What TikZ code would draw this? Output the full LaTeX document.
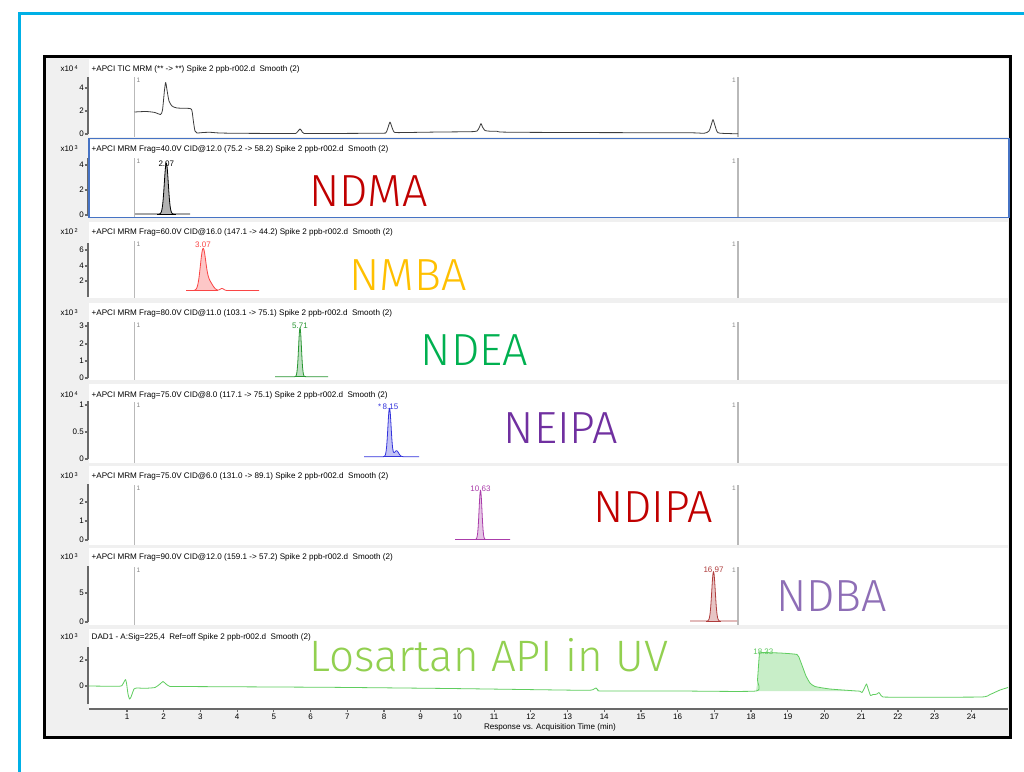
\documentclass[tikz,border=0pt]{standalone}
\usepackage{fontspec}
\setmainfont{Liberation Sans}
\newfontfamily\compoundfont{Fira Sans Light}
\usetikzlibrary{positioning}

\definecolor{framecyan}{RGB}{0,176,230}
\definecolor{bggray}{RGB}{240,240,240}
\definecolor{axisgray}{RGB}{105,105,105}
\definecolor{markgray}{RGB}{185,185,185}
\definecolor{selblue}{RGB}{70,115,196}
\definecolor{ticgray}{RGB}{60,60,60}
\definecolor{nmbared}{RGB}{250,70,70}
\definecolor{ndeagreen}{RGB}{40,150,50}
\definecolor{neipablue}{RGB}{50,50,220}
\definecolor{ndipapurple}{RGB}{170,60,170}
\definecolor{ndbared}{RGB}{175,60,60}
\definecolor{dadgreen}{RGB}{95,205,95}
\definecolor{dadfill}{RGB}{200,238,200}
\definecolor{dadlabel}{RGB}{95,200,95}
\definecolor{ndmatext}{RGB}{192,0,0}
\definecolor{nmbatext}{RGB}{255,192,0}
\definecolor{ndeatext}{RGB}{0,176,80}
\definecolor{neipatext}{RGB}{112,48,160}
\definecolor{ndbatext}{RGB}{142,110,182}
\definecolor{losartantext}{RGB}{146,208,80}

\begin{document}
\begin{tikzpicture}[x=1pt, y=-1pt,
  header/.style={anchor=west, inner sep=0pt, font=\fontsize{8.1}{9}\selectfont},
  ticklabel/.style={anchor=east, inner sep=0pt, font=\fontsize{8}{9}\selectfont},
  marklabel/.style={inner sep=0pt, text=markgray!70!black, font=\fontsize{6.5}{7}\selectfont},
  peaklabel/.style={anchor=south, inner sep=0pt, font=\fontsize{8}{9}\selectfont},
  compound/.style={anchor=base, inner sep=0pt, font=\compoundfont\fontsize{45}{45}\selectfont},
  axis/.style={axisgray, line width=1.2pt},
  marker/.style={markgray, line width=1.4pt},
  trace/.style={line width=0.8pt, line join=round}
]

  % Frames and panels
  \useasboundingbox (0,0) rectangle (1024,771);
  \draw[framecyan, line width=3.5pt] (19.5,13.5) rectangle (1040,790);
  \draw[line width=2.5pt, fill=bggray] (44.5,56.5) rectangle (1010.5,737.5);
  \foreach \ptop/\pbot in {59/137, 140/218, 222/298, 303/380, 384/463, 466/545, 548/625, 629/708}
    \fill[white] (89,\ptop) rectangle (1008,\pbot);

  % Headers, exponents and y axes
  \foreach \n/\hy/\at/\ab/\ex/\txt in {
    tic/69/77/134/4/{+APCI TIC MRM (** -> **) Spike 2 ppb-r002.d\ \ Smooth (2)},
    ndma/149/158/215/3/{+APCI MRM Frag=40.0V CID@12.0 (75.2 -> 58.2) Spike 2 ppb-r002.d\ \ Smooth (2)},
    nmba/232/243/297/2/{+APCI MRM Frag=60.0V CID@16.0 (147.1 -> 44.2) Spike 2 ppb-r002.d\ \ Smooth (2)},
    ndea/313/322/378/3/{+APCI MRM Frag=80.0V CID@11.0 (103.1 -> 75.1) Spike 2 ppb-r002.d\ \ Smooth (2)},
    neipa/395/401/459/4/{+APCI MRM Frag=75.0V CID@8.0 (117.1 -> 75.1) Spike 2 ppb-r002.d\ \ Smooth (2)},
    ndipa/476/484/540/3/{+APCI MRM Frag=75.0V CID@6.0 (131.0 -> 89.1) Spike 2 ppb-r002.d\ \ Smooth (2)},
    ndba/557/566/622/3/{+APCI MRM Frag=90.0V CID@12.0 (159.1 -> 57.2) Spike 2 ppb-r002.d\ \ Smooth (2)},
    dad/637/647/704/3/{DAD1 - A:Sig=225,4\ \ Ref=off Spike 2 ppb-r002.d\ \ Smooth (2)}}{
    \node[header] (head-\n) at (91.5,\hy) {\txt};
    \node[ticklabel] (exp-\n) at (78,\hy) {x10\,\raisebox{2.2pt}{\fontsize{5.5}{6}\selectfont\ex}};
    \draw[axis] (88,\at) -- (88,\ab);
  }
  \draw[selblue, line width=1.4pt] (89,138.7) rectangle (1009,217.5);

  % Y ticks
  \foreach \y/\v in {88/4, 111/2, 134/0, 165/4, 190/2, 215/0, 250/6, 266/4, 281/2,
      326/3, 344/2, 361/1, 378/0, 405/1, 432/0.5, 459/0, 502/2, 521/1, 540/0,
      593/5, 622/0, 660/2, 686/0}{
    \draw[axis] (84.5,\y) -- (88,\y);
    \node[ticklabel] (ytick-\y) at (84,\y) {\v};
  }

  % Marker lines
  \foreach \n/\at/\ab in {tic/77/137, ndma/158/217, nmba/241/298, ndea/322/380,
      neipa/402/463, ndipa/485/545, ndba/567/625}{
    \draw[marker] (134.5,\at) -- (134.5,\ab);
    \draw[marker] (738,\at) -- (738,\ab);
    \node[marklabel, anchor=north west] (mleft-\n) at (136.5,\at+1) {1};
    \node[marklabel, anchor=north east] (mright-\n) at (736,\at+1) {1};
  }

  % TIC trace
  \draw[trace, ticgray] plot[smooth, tension=0.4] coordinates {
    (134.5,112) (146,111.5) (155,112.5) (160.5,114.5) (162.5,110) (164.5,90)
    (165.7,82.5) (167,90) (169,101) (172,106) (177,108) (190,108.5) (192,111)
    (193.5,122) (195,131) (197,133) (203,132.5) (210,132.3) (220,133) (240,133.3)
    (290,133.5) (296,133.3) (298.5,130.5) (300,129) (301.5,130.5) (304,133.4)
    (320,133.5) (380,133.2) (386,132.5) (388.5,126) (390,122) (391.5,126)
    (394,132) (398,132.6) (420,132.3) (440,132) (470,131.7) (477,131)
    (479.5,127) (481,123.5) (482.5,127) (485,130.5) (490,131.2) (497,131.3)
    (500,132) (520,132.3) (600,132.6) (690,132.8) (704,133.3) (709,131)
    (711.5,124) (713,119.5) (714.5,124) (717,131.5) (720,133.2) (738,133.8)};

  % MRM peaks
  \foreach \n/\base/\a/\b/\fa/\fb/\col/\f in {
    ndma/214/135/190/157/176/black/{51*exp(-(\x-166.3)*(\x-166.3)/7.84)},
    nmba/290.5/186/259/192/218/nmbared/{40*exp(-(\x-203)*(\x-203)/14)+9*exp(-(\x-209)*(\x-209)/25)+2*exp(-(\x-222)*(\x-222)/6.25)},
    ndea/376.7/275/328/295/306/ndeagreen/{49*exp(-(\x-300)*(\x-300)/4)},
    neipa/456.7/364/419/383/401/neipablue/{48.5*exp(-(\x-389.5)*(\x-389.5)/5.3)+6*exp(-(\x-396.5)*(\x-396.5)/9)},
    ndipa/539.5/455/510/475/486/ndipapurple/{49.5*exp(-(\x-480.5)*(\x-480.5)/4)},
    ndba/621/690/737/706/721/ndbared/{49.3*exp(-(\x-713.5)*(\x-713.5)/6.25)}}{
    \fill[\col!30!white] plot[domain=\fa:\fb, samples=40] (\x,{\base-(\f)}) -- (\fb,\base) -- (\fa,\base) -- cycle;
    \draw[trace, \col] plot[domain=\a:\b, samples=120] (\x,{\base-(\f)});
    \draw[\col, line width=0.5pt] (\fa,\base) -- (\fb,\base);
  }

  % Peak labels
  \node[peaklabel, text=black] (rt-ndma) at (166.3,166.5) {2.07};
  \node[peaklabel, text=nmbared] (rt-nmba) at (203,247.5) {3.07};
  \node[peaklabel, text=ndeagreen] (rt-ndea) at (300,329) {5.71};
  \node[peaklabel, text=neipablue] (rt-neipa) at (390.5,410) {8.15};
  \node[peaklabel, text=neipablue, left=1pt of rt-neipa.south west, anchor=south east] (star-neipa) {*};
  \node[peaklabel, text=ndipapurple] (rt-ndipa) at (480.5,492) {10.63};
  \node[peaklabel, text=ndbared] (rt-ndba) at (713.5,573) {16.97};

  % DAD trace
  \fill[dadfill] plot[smooth, tension=0.3] coordinates {
    (756,691) (757.5,680) (759.5,653) (762,652.5) (780,653) (797,654.5)
    (800,660) (803,668) (806,676) (810,683) (815,686.5) (830,689) (857,691)} -- cycle;
  \draw[trace, dadgreen] plot[smooth, tension=0.3] coordinates {
    (89,686) (118,686.3) (122,685.5) (124.5,681) (125.5,679.5) (126.5,683)
    (128,694) (129.5,699) (131,697) (134,689) (137,688) (145,688.3) (155,687.5)
    (160,684) (163,681.5) (166,684) (170,686.5) (180,686.5) (330,687.3)
    (450,688.5) (560,690) (590,690.3) (594,689) (596,688) (598,690) (602,691)
    (680,691) (756,691) (757.5,680) (759.5,653) (762,652.5) (780,653)
    (797,654.5) (800,660) (803,668) (806,676) (810,683) (815,686.5) (830,689)
    (857,691) (860,691.2) (862,692.5) (864,689) (866.5,684) (868.5,690)
    (870.5,695.5) (873,694.5) (875,694.5) (877,694) (879,692.5) (881,695.5)
    (883,697) (900,697.2) (981,697) (990,694.5) (1000,690) (1008,687.5)};
  \node[peaklabel, text=dadlabel] (rt-dad) at (763.3,654.5) {18.33};

  % X axis
  \draw[axis] (89,709) -- (1008,709);
  \foreach \t in {1,...,24}{
    \draw[axis] ({90.3+36.71*\t},709) -- ++(0,3);
    \node[ticklabel, anchor=north] (xtick-\t) at ({90.3+36.71*\t},714) {\t};
  }
  \node[header, anchor=center] (xtitle) at (550,727) {Response vs. Acquisition Time (min)};

  % Compound labels
  \node[compound, text=ndmatext] (ndma) at (368.5,206.5) {NDMA};
  \node[compound, text=nmbatext] (nmba) at (408,290) {NMBA};
  \node[compound, text=ndeatext] (ndea) at (474.5,365) {NDEA};
  \node[compound, text=neipatext] (neipa) at (561,443.5) {NEIPA};
  \node[compound, text=ndmatext] (ndipa) at (653,522) {NDIPA};
  \node[compound, text=ndbatext] (ndba) at (831.5,611) {NDBA};
  \node[compound, text=losartantext, font=\compoundfont\fontsize{44}{44}\selectfont] (losartan) at (489,671) {Losartan API in UV};

\end{tikzpicture}
\end{document}
